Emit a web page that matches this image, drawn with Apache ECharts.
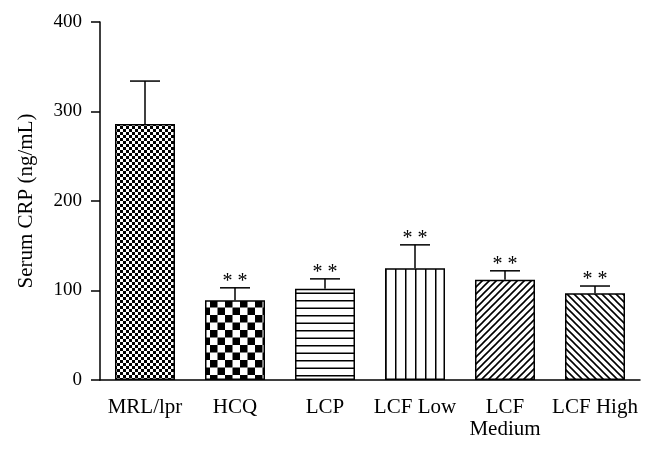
<!DOCTYPE html>
<html>
<head>
<meta charset="utf-8">
<script src="https://cdn.jsdelivr.net/npm/echarts@6/dist/echarts.min.js"></script>
<style>
  html, body { margin: 0; padding: 0; background: #fff; }
  #chart { width: 658px; height: 440px; }
</style>
</head>
<body>
<div id="chart"></div>
<script>
  // values
  const categories = ['MRL/lpr', 'HCQ', 'LCP', 'LCF Low', 'LCF\nMedium', 'LCF High'];
  const means = [286, 89, 102, 125, 112, 97];
  const errors = [48, 14, 11, 26, 10, 8];
  const marks = ['', '* *', '* *', '* *', '* *', '* *'];
  const yTicks = [0, 100, 200, 300, 400];

  const FONT = '"Liberation Serif", "DejaVu Serif", serif';

  // fill patterns for the bars
  const makePattern = (size, draw) => {
    const c = document.createElement('canvas');
    c.width = size;
    c.height = size;
    const ctx = c.getContext('2d');
    ctx.fillStyle = '#fff';
    ctx.fillRect(0, 0, size, size);
    ctx.fillStyle = '#000';
    ctx.strokeStyle = '#000';
    draw(ctx, size);
    return { image: c, repeat: 'repeat' };
  };

  const patterns = [
    // fine checker
    makePattern(6, (ctx) => {
      ctx.fillRect(0, 0, 3, 3);
      ctx.fillRect(3, 3, 3, 3);
    }),
    // coarse checker
    makePattern(15, (ctx) => {
      ctx.fillRect(0, 0, 7.5, 7.5);
      ctx.fillRect(7.5, 7.5, 7.5, 7.5);
    }),
    // horizontal lines
    makePattern(15, (ctx) => {
      ctx.fillRect(0, 0, 15, 1.5);
      ctx.fillRect(0, 7.5, 15, 1.5);
    }),
    // vertical lines
    makePattern(10, (ctx) => {
      ctx.fillRect(5, 0, 1.5, 10);
    }),
    // diagonal /
    makePattern(7, (ctx, s) => {
      ctx.lineWidth = 1.6;
      ctx.beginPath();
      ctx.moveTo(-1, s + 1); ctx.lineTo(s + 1, -1);
      ctx.moveTo(-1, 1); ctx.lineTo(1, -1);
      ctx.moveTo(s - 1, s + 1); ctx.lineTo(s + 1, s - 1);
      ctx.stroke();
    }),
    // diagonal \
    makePattern(7, (ctx, s) => {
      ctx.lineWidth = 1.6;
      ctx.beginPath();
      ctx.moveTo(-1, -1); ctx.lineTo(s + 1, s + 1);
      ctx.moveTo(s - 1, -1); ctx.lineTo(s + 1, 1);
      ctx.moveTo(-1, s - 1); ctx.lineTo(1, s + 1);
      ctx.stroke();
    }),
  ];

  const chart = echarts.init(document.getElementById('chart'));

  const option = {
    backgroundColor: '#fff',
    animation: false,
    grid: {
      left: 100,
      right: 18,
      top: 22,
      bottom: 56,
      containLabel: false,
    },
    xAxis: {
      type: 'category',
      data: categories,
      axisLine: { lineStyle: { color: '#000', width: 1.5 } },
      axisTick: { alignWithLabel: true, length: 8, lineStyle: { color: '#000', width: 1.5 } },
      axisLabel: {
        color: '#000',
        fontFamily: FONT,
        fontSize: 21,
        margin: 16,
        lineHeight: 22,
        interval: 0,
      },
    },
    yAxis: {
      type: 'value',
      min: yTicks[0],
      max: yTicks[yTicks.length - 1],
      interval: 100,
      name: 'Serum CRP (ng/mL)',
      nameLocation: 'middle',
      nameRotate: 90,
      nameGap: 63,
      nameTextStyle: { color: '#000', fontFamily: FONT, fontSize: 21 },
      axisLine: { show: true, lineStyle: { color: '#000', width: 1.5 } },
      axisTick: { show: true, length: 9, lineStyle: { color: '#000', width: 1.5 } },
      axisLabel: { color: '#000', fontFamily: FONT, fontSize: 19, margin: 18 },
      splitLine: { show: false },
    },
    series: [
      {
        type: 'bar',
        barWidth: 60,
        data: means.map((v, i) => ({
          value: v,
          itemStyle: {
            color: patterns[i],
            borderColor: '#000',
            borderWidth: 1.5,
          },
        })),
        z: 2,
      },
      {
        // error bars + significance marks
        type: 'custom',
        data: means.map((v, i) => [i, v, v + errors[i]]),
        z: 3,
        renderItem: (params, api) => {
          const i = api.value(0);
          const base = api.coord([i, api.value(1)]);
          const top = api.coord([i, api.value(2)]);
          const style = { stroke: '#000', lineWidth: 1.5 };
          return {
            type: 'group',
            children: [
              { type: 'line', shape: { x1: base[0], y1: base[1], x2: top[0], y2: top[1] }, style },
              { type: 'line', shape: { x1: top[0] - 15, y1: top[1], x2: top[0] + 15, y2: top[1] }, style },
              {
                type: 'text',
                x: top[0],
                y: top[1] + 4,
                style: {
                  text: marks[i],
                  fill: '#000',
                  font: '20px ' + FONT,
                  textAlign: 'center',
                  textVerticalAlign: 'bottom',
                },
              },
            ],
          };
        },
      },
    ],
  };

  chart.setOption(option);
</script>
</body>
</html>
